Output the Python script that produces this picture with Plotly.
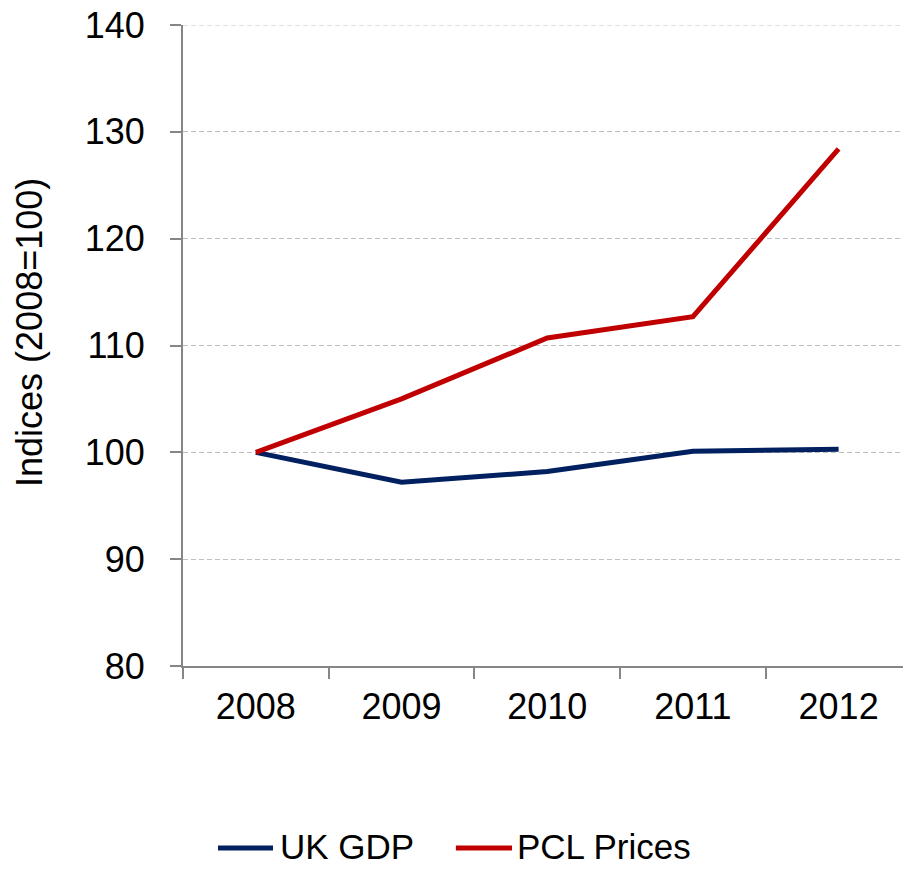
import plotly.graph_objects as go

# Index values, 2008 = 100
years = ["2008", "2009", "2010", "2011", "2012"]
uk_gdp = [100.0, 97.2, 98.2, 100.1, 100.3]
pcl_prices = [100.0, 105.0, 110.7, 112.7, 128.4]

series_names = ["UK GDP", "PCL Prices"]
series_colors = ["#002060", "#C00000"]

y_ticks = [80, 90, 100, 110, 120, 130, 140]

FONT = "Liberation Sans, Arial, sans-serif"
AXIS_GREY = "#868686"
GRID_GREY = "#BFBFBF"

fig = go.Figure()
for name, vals, col in zip(series_names, [uk_gdp, pcl_prices], series_colors):
    fig.add_trace(go.Scatter(
        x=years, y=vals, name=name, mode="lines",
        line=dict(color=col, width=5),
        showlegend=False,
    ))

fig.update_layout(
    width=904, height=869,
    margin=dict(l=183, r=1, t=25, b=203),
    paper_bgcolor="white", plot_bgcolor="white",
    font=dict(family=FONT, size=36, color="black"),
)

fig.update_xaxes(
    type="category",
    range=[-0.5, 4.442],
    showline=True, linecolor=AXIS_GREY, linewidth=2,
    ticks="outside", tickson="boundaries", ticklen=11, tickwidth=2, tickcolor=AXIS_GREY,
    showgrid=False, zeroline=False,
    tickfont=dict(size=36, family=FONT, color="black"),
    ticklabelstandoff=8,
)
fig.update_yaxes(
    range=[80, 140], tickvals=y_ticks,
    showline=True, linecolor=AXIS_GREY, linewidth=2,
    ticks="outside", ticklen=11, tickwidth=2, tickcolor=AXIS_GREY,
    showgrid=True, gridcolor=GRID_GREY, gridwidth=1, griddash="5px,3px",
    zeroline=False,
    tickfont=dict(size=36, family=FONT, color="black"),
    ticklabelstandoff=18,
)

# Top gridline sits on the plot edge, so draw it explicitly
fig.add_shape(type="line", xref="paper", yref="y",
              x0=0, x1=1, y0=y_ticks[-1], y1=y_ticks[-1],
              line=dict(color=GRID_GREY, width=1, dash="5px,3px"),
              layer="below")

# Rotated y-axis title
fig.add_annotation(
    text="Indices (2008=100)", textangle=-90,
    xref="paper", yref="paper", x=-0.214, y=0.521,
    xanchor="center", yanchor="middle", showarrow=False,
    font=dict(size=36, family=FONT, color="black"),
)

# Legend along the bottom
legend_items = [
    (0.0486, 0.125, 0.1319),
    (0.379, 0.457, 0.461),
]
line_y = -0.284
text_y = -0.2815
for (x0, x1, xt), name, col in zip(legend_items, series_names, series_colors):
    fig.add_shape(type="line", xref="paper", yref="paper",
                  x0=x0, x1=x1, y0=line_y, y1=line_y,
                  line=dict(color=col, width=5))
    fig.add_annotation(text=name, xref="paper", yref="paper",
                       x=xt, y=text_y, xanchor="left", yanchor="middle",
                       showarrow=False,
                       font=dict(size=35, family=FONT, color="black"))

fig.write_html("out.html")
